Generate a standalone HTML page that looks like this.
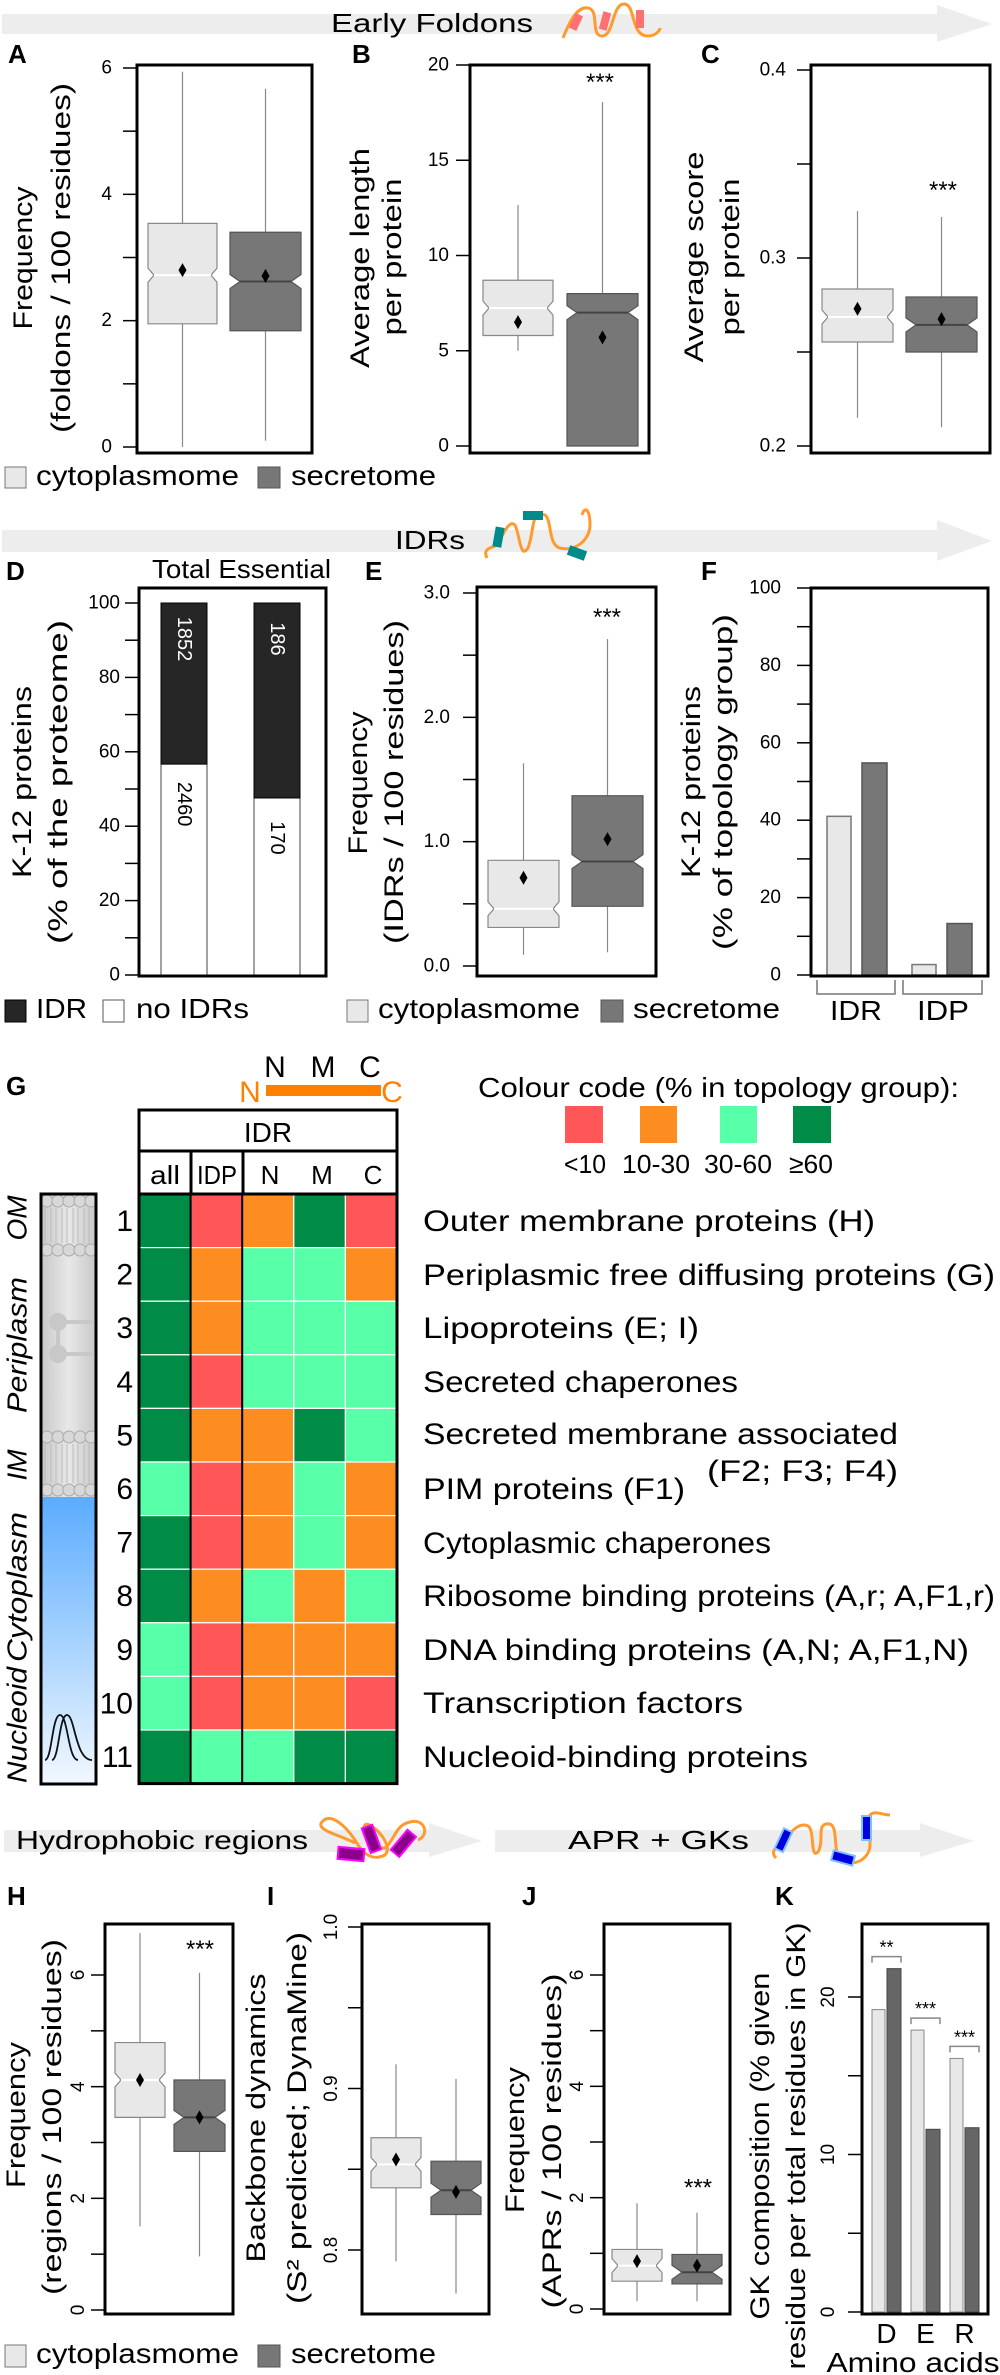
<!DOCTYPE html>
<html><head><meta charset="utf-8"><style>
html,body{margin:0;padding:0;background:#fff;}
svg{display:block;font-family:"Liberation Sans",Arial,sans-serif;}
</style></head><body>
<svg id="fig" xmlns="http://www.w3.org/2000/svg" width="1000" height="2375" viewBox="0 0 1000 2375">
<defs>
<linearGradient id="gGray" x1="0" x2="1" y1="0" y2="0"><stop offset="0" stop-color="#c8c8c8"/><stop offset="0.5" stop-color="#e8e8e8"/><stop offset="1" stop-color="#c8c8c8"/></linearGradient>
<linearGradient id="gBlue" x1="0" x2="0" y1="0" y2="1"><stop offset="0" stop-color="#5aacff"/><stop offset="1" stop-color="#f2f8ff"/></linearGradient>
</defs>

<!-- band arrows -->
<g>
<polygon points="2,14 937,14 937,5 992,24 937,42 937,34 2,34" fill="#ededed"/>
<text x="331" y="32" font-size="26" textLength="202" lengthAdjust="spacingAndGlyphs">Early  Foldons</text>
<path d="M563,38 C570,20 578,6 588,8 C600,10 590,36 602,36 C614,36 612,4 624,4 C636,4 630,36 648,36 C656,36 660,30 660,28" fill="none" stroke="#ff9a2e" stroke-width="3"/>
<rect x="572" y="14" width="8" height="16" fill="#ff7070" transform="rotate(25 576 22)"/>
<rect x="601" y="12" width="8" height="18" fill="#ff7070" transform="rotate(15 605 21)"/>
<rect x="636" y="10" width="8" height="18" fill="#ff7070"/>
</g>
<g>
<polygon points="2,530 937,530 937,520 992,541 937,561 937,552 2,552" fill="#ededed"/>
<text x="395" y="549" font-size="26" textLength="70" lengthAdjust="spacingAndGlyphs">IDRs</text>
<path d="M487,558 C482,548 492,548 497,545 C505,530 510,520 515,525 C520,535 520,560 528,548 C535,530 530,510 545,515 C552,520 548,545 560,548 C575,552 590,540 590,525 C590,510 585,505 582,515" fill="none" stroke="#ff9a2e" stroke-width="3"/>
<rect x="494" y="527" width="9" height="20" fill="#008b8b" transform="rotate(10 498 537)"/>
<rect x="523" y="511" width="20" height="9" fill="#008b8b"/>
<rect x="568" y="548" width="18" height="10" fill="#008b8b" transform="rotate(20 577 553)"/>
</g>
<g>
<polygon points="4,1830 429,1830 429,1823 482,1841 429,1857 429,1852 4,1852" fill="#ededed"/>
<text x="16" y="1849" font-size="26" textLength="292" lengthAdjust="spacingAndGlyphs">Hydrophobic  regions</text>
<path d="M355,1843 C340,1835 315,1830 322,1822 C330,1812 345,1825 355,1840 C365,1858 375,1860 385,1855 C395,1845 370,1820 365,1825 C360,1830 375,1850 385,1848 C395,1840 395,1825 410,1822 C425,1818 430,1835 418,1840" fill="none" stroke="#ff9a2e" stroke-width="3"/>
<rect x="338" y="1848" width="26" height="12" fill="#8b008b" stroke="#ff00ff" stroke-width="2" transform="rotate(5 351 1854)"/>
<rect x="366" y="1826" width="11" height="26" fill="#8b008b" stroke="#ff00ff" stroke-width="2" transform="rotate(-20 371 1839)"/>
<rect x="398" y="1830" width="11" height="26" fill="#8b008b" stroke="#ff00ff" stroke-width="2" transform="rotate(40 403 1843)"/>
</g>
<g>
<polygon points="495,1830 920,1830 920,1823 974,1841 920,1857 920,1852 495,1852" fill="#ededed"/>
<text x="568" y="1849" font-size="26" textLength="181" lengthAdjust="spacingAndGlyphs">APR  +  GKs</text>
<path d="M776,1858 C770,1852 776,1846 780,1848 C790,1830 800,1822 808,1826 C815,1830 810,1860 818,1852 C825,1840 815,1822 830,1824 C840,1828 830,1858 845,1862 C860,1866 870,1855 870,1845 C870,1830 866,1822 870,1815 C875,1810 882,1815 890,1815" fill="none" stroke="#ff9a2e" stroke-width="3"/>
<rect x="779" y="1829" width="9" height="22" fill="#0000dd" stroke="#7fbfff" stroke-width="2" transform="rotate(25 783 1840)"/>
<rect x="832" y="1853" width="22" height="10" fill="#0000dd" stroke="#7fbfff" stroke-width="2" transform="rotate(15 843 1858)"/>
<rect x="862" y="1816" width="9" height="24" fill="#0000dd" stroke="#7fbfff" stroke-width="2"/>
</g>

<!-- panel letters -->
<g font-weight="bold" font-size="26">
<text x="8" y="63">A</text>
<text x="352" y="63">B</text>
<text x="701" y="63">C</text>
<text x="6" y="580">D</text>
<text x="365" y="580">E</text>
<text x="701" y="580">F</text>
<text x="6" y="1095">G</text>
<text x="7" y="1905">H</text>
<text x="267" y="1905">I</text>
<text x="522" y="1905">J</text>
<text x="775" y="1905">K</text>
</g>

<!-- axis titles -->
<g font-size="27" text-anchor="middle" dominant-baseline="central">
<text transform="translate(23,258) rotate(-90)" textLength="143" lengthAdjust="spacingAndGlyphs">Frequency</text>
<text transform="translate(61,258) rotate(-90)" textLength="350" lengthAdjust="spacingAndGlyphs">(foldons  /  100  residues)</text>
<text transform="translate(360,258) rotate(-90)" textLength="220" lengthAdjust="spacingAndGlyphs">Average  length</text>
<text transform="translate(392,257) rotate(-90)" textLength="157" lengthAdjust="spacingAndGlyphs">per  protein</text>
<text transform="translate(694,257) rotate(-90)" textLength="211" lengthAdjust="spacingAndGlyphs">Average  score</text>
<text transform="translate(730,257) rotate(-90)" textLength="157" lengthAdjust="spacingAndGlyphs">per  protein</text>
<text transform="translate(22,782) rotate(-90)" textLength="192" lengthAdjust="spacingAndGlyphs">K-12  proteins</text>
<text transform="translate(58,782) rotate(-90)" textLength="324" lengthAdjust="spacingAndGlyphs">(%  of  the  proteome)</text>
<text transform="translate(358,783) rotate(-90)" textLength="143" lengthAdjust="spacingAndGlyphs">Frequency</text>
<text transform="translate(394,782) rotate(-90)" textLength="324" lengthAdjust="spacingAndGlyphs">(IDRs  /  100  residues)</text>
<text transform="translate(691,782) rotate(-90)" textLength="192" lengthAdjust="spacingAndGlyphs">K-12  proteins</text>
<text transform="translate(723,782) rotate(-90)" textLength="336" lengthAdjust="spacingAndGlyphs">(%  of  topology  group)</text>
<text transform="translate(16,2115) rotate(-90)" textLength="146" lengthAdjust="spacingAndGlyphs">Frequency</text>
<text transform="translate(52,2117) rotate(-90)" textLength="356" lengthAdjust="spacingAndGlyphs">(regions  /  100  residues)</text>
<text transform="translate(256,2118) rotate(-90)" textLength="289" lengthAdjust="spacingAndGlyphs">Backbone  dynamics</text>
<text transform="translate(297,2118) rotate(-90)" textLength="372" lengthAdjust="spacingAndGlyphs">(S² predicted;  DynaMine)</text>
<text transform="translate(515,2140) rotate(-90)" textLength="146" lengthAdjust="spacingAndGlyphs">Frequency</text>
<text transform="translate(552,2141) rotate(-90)" textLength="335" lengthAdjust="spacingAndGlyphs">(APRs  /  100  residues)</text>
<text transform="translate(760,2146) rotate(-90)" textLength="347" lengthAdjust="spacingAndGlyphs">GK composition (% given</text>
<text transform="translate(796,2146) rotate(-90)" textLength="447" lengthAdjust="spacingAndGlyphs">residue per total residues in GK)</text>
</g>

<!-- legends -->
<g font-size="28">
<g>
<rect x="5" y="467" width="21" height="21" fill="#e8e8e8" stroke="#777"/>
<text x="36" y="485" textLength="203" lengthAdjust="spacingAndGlyphs">cytoplasmome</text>
<rect x="258" y="467" width="22" height="21" fill="#777" stroke="#555"/>
<text x="291" y="485" textLength="145" lengthAdjust="spacingAndGlyphs">secretome</text>
</g>
<g>
<rect x="5" y="1000" width="21" height="22" fill="#262626" stroke="#000"/>
<text x="36" y="1018" textLength="51" lengthAdjust="spacingAndGlyphs">IDR</text>
<rect x="103" y="1000" width="21" height="22" fill="#fff" stroke="#555"/>
<text x="136" y="1018" textLength="113" lengthAdjust="spacingAndGlyphs">no IDRs</text>
</g>
<g>
<rect x="347" y="1000" width="21" height="22" fill="#e8e8e8" stroke="#777"/>
<text x="378" y="1018" textLength="202" lengthAdjust="spacingAndGlyphs">cytoplasmome</text>
<rect x="601" y="1000" width="22" height="22" fill="#777" stroke="#555"/>
<text x="633" y="1018" textLength="147" lengthAdjust="spacingAndGlyphs">secretome</text>
</g>
<g>
<rect x="5" y="2345" width="21" height="22" fill="#e8e8e8" stroke="#777"/>
<text x="36" y="2363" textLength="203" lengthAdjust="spacingAndGlyphs">cytoplasmome</text>
<rect x="258" y="2345" width="22" height="22" fill="#777" stroke="#555"/>
<text x="291" y="2363" textLength="145" lengthAdjust="spacingAndGlyphs">secretome</text>
</g>
</g>

<!-- D header & F/K category labels -->
<text x="152" y="578" font-size="26" textLength="179" lengthAdjust="spacingAndGlyphs">Total Essential</text>
<g fill="none" stroke="#777" stroke-width="1.5">
<path d="M817,980 V994 H895 V980"/><path d="M903,980 V994 H982 V980"/>
</g>
<g font-size="28" text-anchor="middle">
<text x="856" y="1020" textLength="52" lengthAdjust="spacingAndGlyphs">IDR</text>
<text x="943" y="1020" textLength="52" lengthAdjust="spacingAndGlyphs">IDP</text>
<text x="913" y="2372" textLength="173" lengthAdjust="spacingAndGlyphs">Amino  acids</text>
</g>

<!-- G static -->
<g font-size="30" text-anchor="middle">
<text x="275" y="1077">N</text><text x="323" y="1077">M</text><text x="370" y="1077">C</text>
<rect x="266" y="1085" width="115" height="11" fill="#ff8000"/>
<text x="250" y="1102" fill="#ff8000">N</text><text x="392" y="1102" fill="#ff8000">C</text>
</g>
<text x="478" y="1097" font-size="28" textLength="481" lengthAdjust="spacingAndGlyphs">Colour  code  (%  in  topology  group):</text>
<g font-size="26" text-anchor="middle">
<rect x="565" y="1106" width="38" height="37" fill="#ff5757"/>
<rect x="640" y="1106" width="37" height="37" fill="#fd8d20"/>
<rect x="720" y="1106" width="37" height="37" fill="#57ffa8"/>
<rect x="793" y="1106" width="38" height="37" fill="#008c46"/>
<text x="585" y="1173" textLength="42" lengthAdjust="spacingAndGlyphs">&lt;10</text>
<text x="656" y="1173" textLength="68" lengthAdjust="spacingAndGlyphs">10-30</text>
<text x="738" y="1173" textLength="68" lengthAdjust="spacingAndGlyphs">30-60</text>
<text x="811" y="1173" textLength="44" lengthAdjust="spacingAndGlyphs">≥60</text>
</g>
<g>
<rect x="139" y="1110" width="258" height="84" fill="#fff" stroke="#000" stroke-width="3"/>
<line x1="139" y1="1151" x2="397" y2="1151" stroke="#000" stroke-width="3"/>
<line x1="191" y1="1151" x2="191" y2="1194" stroke="#000" stroke-width="3"/>
<line x1="243" y1="1151" x2="243" y2="1194" stroke="#000" stroke-width="3"/>
<text x="268" y="1142" font-size="28" text-anchor="middle">IDR</text>
<g font-size="26" text-anchor="middle">
<text x="165" y="1184" textLength="30" lengthAdjust="spacingAndGlyphs">all</text>
<text x="217" y="1184" textLength="40" lengthAdjust="spacingAndGlyphs">IDP</text>
<text x="270" y="1184">N</text><text x="322" y="1184">M</text><text x="373" y="1184">C</text>
</g>
</g>

<!-- cell compartment graphic -->
<g>
<rect x="41" y="1194" width="55" height="303" fill="url(#gGray)"/>
<rect x="41" y="1497" width="55" height="287" fill="url(#gBlue)"/>
<g fill="#d8d8d8" stroke="#aaa" stroke-width="1">
<circle cx="47" cy="1201" r="6"/><circle cx="58" cy="1201" r="6"/><circle cx="69" cy="1201" r="6"/><circle cx="80" cy="1201" r="6"/><circle cx="91" cy="1201" r="6"/>
<circle cx="47" cy="1250" r="6"/><circle cx="58" cy="1250" r="6"/><circle cx="69" cy="1250" r="6"/><circle cx="80" cy="1250" r="6"/><circle cx="91" cy="1250" r="6"/>
<circle cx="47" cy="1437" r="6"/><circle cx="58" cy="1437" r="6"/><circle cx="69" cy="1437" r="6"/><circle cx="80" cy="1437" r="6"/><circle cx="91" cy="1437" r="6"/>
<circle cx="47" cy="1490" r="6"/><circle cx="58" cy="1490" r="6"/><circle cx="69" cy="1490" r="6"/><circle cx="80" cy="1490" r="6"/><circle cx="91" cy="1490" r="6"/>
</g>
<g stroke="#bbb" stroke-width="1" fill="none">
<path d="M45,1208 V1243 M51,1208 V1243 M56,1208 V1243 M62,1208 V1243 M67,1208 V1243 M73,1208 V1243 M78,1208 V1243 M84,1208 V1243 M89,1208 V1243"/>
<path d="M45,1444 V1483 M51,1444 V1483 M56,1444 V1483 M62,1444 V1483 M67,1444 V1483 M73,1444 V1483 M78,1444 V1483 M84,1444 V1483 M89,1444 V1483"/>
</g>
<g fill="#c8c8c8" stroke="#c8c8c8" stroke-width="4">
<circle cx="58" cy="1322" r="7"/><circle cx="58" cy="1354" r="7"/><path d="M58,1322 V1354 M58,1322 H92 M58,1354 H92" fill="none"/>
</g>
<path d="M45,1760 C52,1760 52,1715 60,1715 C68,1715 68,1760 78,1760 M52,1760 C59,1760 59,1715 67,1715 C75,1715 75,1760 92,1760" fill="none" stroke="#111" stroke-width="1.8"/>
<rect x="41" y="1194" width="55" height="590" fill="none" stroke="#000" stroke-width="3"/>
</g>
<g font-size="28" font-style="italic" text-anchor="middle" dominant-baseline="central">
<text transform="translate(17,1218) rotate(-90)">OM</text>
<text transform="translate(17,1345) rotate(-90)" textLength="136" lengthAdjust="spacingAndGlyphs">Periplasm</text>
<text transform="translate(17,1465) rotate(-90)">IM</text>
<text transform="translate(17,1587) rotate(-90)" textLength="150" lengthAdjust="spacingAndGlyphs">Cytoplasm</text>
<text transform="translate(17,1725) rotate(-90)" textLength="116" lengthAdjust="spacingAndGlyphs">Nucleoid</text>
</g>

<!-- heatmap row labels -->
<g font-size="30">
<text x="423" y="1231" textLength="452" lengthAdjust="spacingAndGlyphs">Outer  membrane  proteins  (H)</text>
<text x="423" y="1285" textLength="572" lengthAdjust="spacingAndGlyphs">Periplasmic  free  diffusing  proteins  (G)</text>
<text x="423" y="1338" textLength="276" lengthAdjust="spacingAndGlyphs">Lipoproteins  (E;  I)</text>
<text x="423" y="1392" textLength="315" lengthAdjust="spacingAndGlyphs">Secreted  chaperones</text>
<text x="423" y="1444" textLength="475" lengthAdjust="spacingAndGlyphs">Secreted  membrane  associated</text>
<text x="707" y="1481" textLength="191" lengthAdjust="spacingAndGlyphs">(F2;  F3;  F4)</text>
<text x="423" y="1499" textLength="262" lengthAdjust="spacingAndGlyphs">PIM proteins  (F1)</text>
<text x="423" y="1553" textLength="348" lengthAdjust="spacingAndGlyphs">Cytoplasmic chaperones</text>
<text x="423" y="1606" textLength="572" lengthAdjust="spacingAndGlyphs">Ribosome  binding  proteins  (A,r; A,F1,r)</text>
<text x="423" y="1660" textLength="546" lengthAdjust="spacingAndGlyphs">DNA  binding  proteins  (A,N;  A,F1,N)</text>
<text x="423" y="1713" textLength="320" lengthAdjust="spacingAndGlyphs">Transcription factors</text>
<text x="423" y="1767" textLength="385" lengthAdjust="spacingAndGlyphs">Nucleoid-binding proteins</text>
</g>

<g id="marks"></g>
</svg>

<script>
// ---------- data ----------
const boxGroups = ['cytoplasmome', 'secretome'];
// stats order: [whiskerLow, q1, median, q3, whiskerHigh, mean]
const A_cyto = [0, 1.95, 2.72, 3.54, 5.94, 2.8];
const A_secr = [0.1, 1.84, 2.62, 3.4, 5.67, 2.71];
const B_cyto = [5.0, 5.8, 7.24, 8.7, 12.65, 6.5];
const B_secr = [0, 0, 7.0, 8.0, 18.05, 5.7];
const C_cyto = [0.215, 0.2553, 0.2686, 0.2835, 0.325, 0.273];
const C_secr = [0.21, 0.25, 0.2644, 0.2793, 0.3218, 0.2675];
const E_cyto = [0.09, 0.31, 0.46, 0.85, 1.63, 0.71];
const E_secr = [0.11, 0.48, 0.84, 1.37, 2.63, 1.02];
const H_cyto = [1.5, 3.45, 4.12, 4.79, 6.75, 4.12];
const H_secr = [0.96, 2.84, 3.45, 4.12, 6.04, 3.45];
const I_cyto = [0.793, 0.8385, 0.853, 0.8695, 0.915, 0.856];
const I_secr = [0.773, 0.822, 0.837, 0.855, 0.906, 0.836];
const J_cyto = [0.14, 0.5, 0.78, 1.07, 1.9, 0.86];
const J_secr = [0.14, 0.45, 0.66, 0.98, 1.73, 0.78];

const A_ticks = [0,1,2,3,4,5,6];
const A_tickLabels = ['0','','2','','4','','6'];
const B_ticks = [0,5,10,15,20];
const B_tickLabels = ['0','5','10','15','20'];
const C_ticks = [0.2,0.25,0.3,0.35,0.4];
const C_tickLabels = ['0.2','','0.3','','0.4'];
const D_ticks = [0,10,20,30,40,50,60,70,80,90,100];
const D_tickLabels = ['0','','20','','40','','60','','80','','100'];
const E_ticks = [0,0.5,1,1.5,2,2.5,3];
const E_tickLabels = ['0.0','','1.0','','2.0','','3.0'];
const F_ticks = [0,10,20,30,40,50,60,70,80,90,100];
const F_tickLabels = ['0','','20','','40','','60','','80','','100'];
const H_ticks = [0,1,2,3,4,5,6];
const H_tickLabels = ['0','','2','','4','','6'];
const I_ticks = [0.8,0.85,0.9,0.95,1.0];
const I_tickLabels = ['0.8','','0.9','','1.0'];
const J_ticks = [0,1,2,3,4,5,6];
const J_tickLabels = ['0','','2','','4','','6'];
const K_ticks = [0,5,10,15,20];
const K_tickLabels = ['0','','10','','20'];

const D_categories = ['Total', 'Essential'];
const D_idrPct = [43.3, 52.4];
const D_noIdrPct = [56.7, 47.6];
const D_idrCount = ['1852', '186'];
const D_noIdrCount = ['2460', '170'];

const F_categories = ['IDR', 'IDP'];
const F_cyto = [41, 2.7];
const F_secr = [54.8, 13.3];

const K_categories = ['D', 'E', 'R'];
const K_cyto = [19.2, 17.9, 16.1];
const K_secr = [21.8, 11.6, 11.7];
const K_sig = ['**', '***', '***'];

const G_columns = ['all', 'IDP', 'N', 'M', 'C'];
const G_rowNumbers = ['1','2','3','4','5','6','7','8','9','10','11'];
// colour class: 0 <10, 1 10-30, 2 30-60, 3 >=60
const G_values = [
  [3,0,1,3,0],
  [3,1,2,2,1],
  [3,1,2,2,2],
  [3,0,2,2,2],
  [3,1,1,3,2],
  [2,0,1,2,1],
  [3,0,1,2,1],
  [3,1,2,1,2],
  [2,0,1,1,1],
  [2,0,1,1,0],
  [3,2,2,3,3]
];
const G_palette = ['#ff5757','#fd8d20','#57ffa8','#008c46'];

// ---------- helpers ----------
const NS = 'http://www.w3.org/2000/svg';
const root = document.getElementById('marks');
function mk(tag, attrs, parent) {
  const e = document.createElementNS(NS, tag);
  for (const k in attrs) e.setAttribute(k, attrs[k]);
  (parent || root).appendChild(e);
  return e;
}
function lin(d0, d1, p0, p1) { return v => p0 + (v - d0) * (p1 - p0) / (d1 - d0); }

function drawFrame(x0, y0, x1, y1, name) {
  const f = mk('rect', {x:x0, y:y0, width:x1-x0, height:y1-y0, fill:'none', stroke:'#000', 'stroke-width':3});
  
  
}

function drawTicks(y, xFrame, ticks, labels, labelX, rotated, name) {
  const g = mk('g', {});
  
  
  ticks.forEach((t, i) => {
    const ln = mk('line', {x1:xFrame-14, x2:xFrame, y1:y(t), y2:y(t), stroke:'#000', 'stroke-width':1.5}, g);
    
    
    if (labels[i]) {
      let tx;
      if (rotated) {
        tx = mk('text', {transform:'translate(' + labelX + ',' + y(t) + ') rotate(-90)', 'text-anchor':'middle', 'font-size':19}, g);
      } else {
        tx = mk('text', {x:labelX, y:y(t), 'text-anchor':'end', 'dominant-baseline':'central', 'font-size':19}, g);
      }
      tx.textContent = labels[i];
      
      
    }
  });
}

function drawBox(y, x0, x1, s, dark, name) {
  const [lo, q1, md, q3, hi, mn] = s;
  const g = mk('g', {});
  
  
  const cx = (x0 + x1) / 2;
  const w1 = mk('line', {x1:cx, x2:cx, y1:y(hi), y2:y(q3), stroke:'#888', 'stroke-width':1.2}, g);
  
  
  const w2 = mk('line', {x1:cx, x2:cx, y1:y(q1), y2:y(lo), stroke:'#888', 'stroke-width':1.2}, g);
  
  
  const n = 7, d = dark ? 10 : 6;
  const yt = y(q3), yb = y(q1), ym = y(md);
  const nu = Math.max(yt, ym - n), nd = Math.min(yb, ym + n);
  const pts = [[x0,yt],[x1,yt],[x1,nu],[x1-d,ym],[x1,nd],[x1,yb],[x0,yb],[x0,nd],[x0+d,ym],[x0,nu]];
  const p = mk('polygon', {points: pts.map(q => q.join(',')).join(' '), fill: dark ? '#777' : '#e8e8e8', stroke: dark ? '#555' : '#888', 'stroke-width':1.2}, g);
  
  
  const ml = mk('line', {x1:x0+d, x2:x1-d, y1:ym, y2:ym, stroke: dark ? '#444' : '#fff', 'stroke-width':2}, g);
  
  
  const yy = y(mn);
  const dm = mk('polygon', {points: cx+','+(yy-7)+' '+(cx+4)+','+yy+' '+cx+','+(yy+7)+' '+(cx-4)+','+yy, fill:'#000'}, g);
  
  
}

function drawStars(x, yv, txt, size, name) {
  const t = mk('text', {x:x, y:yv, 'text-anchor':'middle', 'font-size':size});
  t.textContent = txt;
  
  
}

// ---------- Panel A ----------
const yA = lin(0, 6, 447, 68);
drawTicks(yA, 137, A_ticks, A_tickLabels, 112, false, 'y-axis-a');
drawBox(yA, 148, 217, A_cyto, false, 'box-a-cytoplasmome');
drawBox(yA, 230, 301, A_secr, true, 'box-a-secretome');
drawFrame(137, 65, 312, 453, 'frame-a');

// ---------- Panel B ----------
const yB = lin(0, 20, 446, 65);
drawTicks(yB, 470, B_ticks, B_tickLabels, 449, false, 'y-axis-b');
drawBox(yB, 483, 553, B_cyto, false, 'box-b-cytoplasmome');
drawBox(yB, 567, 638, B_secr, true, 'box-b-secretome');
drawFrame(470, 65, 649, 453, 'frame-b');
drawStars(600, yB(B_secr[4]) - 12, '***', 24, 'significance-b');

// ---------- Panel C ----------
const yC = lin(0.2, 0.4, 446, 70);
drawTicks(yC, 811, C_ticks, C_tickLabels, 786, false, 'y-axis-c');
drawBox(yC, 822, 893, C_cyto, false, 'box-c-cytoplasmome');
drawBox(yC, 906, 977, C_secr, true, 'box-c-secretome');
drawFrame(811, 65, 990, 453, 'frame-c');
drawStars(943, yC(C_secr[4]) - 19, '***', 24, 'significance-c');

// ---------- Panel D ----------
const yD = lin(0, 100, 975, 603);
drawTicks(yD, 139, D_ticks, D_tickLabels, 120, false, 'y-axis-d');
const D_x = [161, 254];
D_categories.forEach((c, i) => {
  const x = D_x[i], w = 46;
  const wb = mk('rect', {x:x, y:yD(D_noIdrPct[i]), width:w, height:yD(0)-yD(D_noIdrPct[i]), fill:'#fff', stroke:'#444', 'stroke-width':1});
  
  
  const top = D_noIdrPct[i] + D_idrPct[i];
  const bb = mk('rect', {x:x, y:yD(top), width:w, height:yD(D_noIdrPct[i])-yD(top), fill:'#262626', stroke:'#000', 'stroke-width':1});
  
  
  const cx = x + w/2;
  const t1 = mk('text', {transform:'translate(' + cx + ',' + (yD(top) + 36) + ') rotate(90)', 'text-anchor':'middle', 'dominant-baseline':'central', 'font-size':20, fill:'#fff'});
  t1.textContent = D_idrCount[i];
  
  
  const t2 = mk('text', {transform:'translate(' + cx + ',' + (yD(D_noIdrPct[i]) + 40) + ') rotate(90)', 'text-anchor':'middle', 'dominant-baseline':'central', 'font-size':20, fill:'#000'});
  t2.textContent = D_noIdrCount[i];
  
  
});
drawFrame(139, 588, 326, 976, 'frame-d');

// ---------- Panel E ----------
const yE = lin(0, 3, 966, 593);
drawTicks(yE, 477, E_ticks, E_tickLabels, 450, false, 'y-axis-e');
drawBox(yE, 488, 559, E_cyto, false, 'box-e-cytoplasmome');
drawBox(yE, 572, 643, E_secr, true, 'box-e-secretome');
drawFrame(477, 587, 656, 976, 'frame-e');
drawStars(607, yE(E_secr[4]) - 14, '***', 24, 'significance-e');

// ---------- Panel F ----------
const yF = lin(0, 100, 975, 588);
drawTicks(yF, 811, F_ticks, F_tickLabels, 781, false, 'y-axis-f');
const F_x = [827, 912];
F_categories.forEach((c, i) => {
  const b1 = mk('rect', {x:F_x[i], y:yF(F_cyto[i]), width:24, height:yF(0)-yF(F_cyto[i]), fill:'#e8e8e8', stroke:'#777', 'stroke-width':1.5});
  
  
  const b2 = mk('rect', {x:F_x[i] + 35, y:yF(F_secr[i]), width:25, height:yF(0)-yF(F_secr[i]), fill:'#777', stroke:'#555', 'stroke-width':1.5});
  
  
});
drawFrame(811, 588, 988, 976, 'frame-f');

// ---------- Panel G heatmap ----------
const G_x = i => 139 + i * 51.6;
const G_y = r => 1194 + r * 53.6;
const gh = mk('g', {});


G_values.forEach((row, r) => {
  row.forEach((v, c) => {
    const cell = mk('rect', {x:G_x(c), y:G_y(r), width:51.6, height:53.6, fill:G_palette[v], stroke:'#fff', 'stroke-width':1.2}, gh);
    
    
  });
  const num = mk('text', {x:133, y:G_y(r) + 37, 'text-anchor':'end', 'font-size':30}, gh);
  num.textContent = G_rowNumbers[r];
  
  
});
[1, 2].forEach(c => {
  const l = mk('line', {x1:G_x(c), x2:G_x(c), y1:G_y(0), y2:G_y(G_values.length), stroke:'#000', 'stroke-width':2}, gh);
  
  
});
const gfr = mk('rect', {x:139, y:G_y(0), width:258, height:G_y(G_values.length)-G_y(0), fill:'none', stroke:'#000', 'stroke-width':3}, gh);



// ---------- Panel H ----------
const yH = lin(0, 6, 2310, 1975);
drawTicks(yH, 105, H_ticks, H_tickLabels, 84, true, 'y-axis-h');
drawBox(yH, 115, 165, H_cyto, false, 'box-h-cytoplasmome');
drawBox(yH, 174, 225, H_secr, true, 'box-h-secretome');
drawFrame(105, 1924, 233, 2314, 'frame-h');
drawStars(200, yH(H_secr[4]) - 16, '***', 24, 'significance-h');

// ---------- Panel I ----------
const yI = lin(0.8, 1.0, 2250, 1927);
drawTicks(yI, 362, I_ticks, I_tickLabels, 337, true, 'y-axis-i');
drawBox(yI, 371, 421, I_cyto, false, 'box-i-cytoplasmome');
drawBox(yI, 431, 481, I_secr, true, 'box-i-secretome');
drawFrame(362, 1924, 489, 2314, 'frame-i');

// ---------- Panel J ----------
const yJ = lin(0, 6, 2309, 1975);
drawTicks(yJ, 604, J_ticks, J_tickLabels, 583, true, 'y-axis-j');
drawBox(yJ, 612, 662, J_cyto, false, 'box-j-cytoplasmome');
drawBox(yJ, 672, 722, J_secr, true, 'box-j-secretome');
drawFrame(604, 1924, 730, 2314, 'frame-j');
drawStars(698, yJ(J_secr[4]) - 17, '***', 24, 'significance-j');

// ---------- Panel K ----------
const yK = lin(0, 20, 2312, 1997);
drawTicks(yK, 862, K_ticks, K_tickLabels, 834, true, 'y-axis-k');
const K_x = [872, 911, 950];
K_categories.forEach((c, i) => {
  const x = K_x[i];
  const b1 = mk('rect', {x:x, y:yK(K_cyto[i]), width:13, height:yK(0)-yK(K_cyto[i]), fill:'#e8e8e8', stroke:'#888', 'stroke-width':1});
  
  
  const b2 = mk('rect', {x:x + 15, y:yK(K_secr[i]), width:14, height:yK(0)-yK(K_secr[i]), fill:'#666', stroke:'#444', 'stroke-width':1});
  
  
  const yb = yK(Math.max(K_cyto[i], K_secr[i])) - 12;
  const br = mk('path', {d:'M' + x + ',' + (yb+6) + ' V' + yb + ' H' + (x+29) + ' V' + (yb+6), fill:'none', stroke:'#888', 'stroke-width':1.5});
  
  
  const st = mk('text', {x:x + 14.5, y:yb - 3, 'text-anchor':'middle', 'font-size':18});
  st.textContent = K_sig[i];
  
  
  const lb = mk('text', {x:x + 14.5, y:2343, 'text-anchor':'middle', 'font-size':28});
  lb.textContent = c;
  
  
});
drawFrame(862, 1924, 988, 2314, 'frame-k');
</script>
</body></html>
